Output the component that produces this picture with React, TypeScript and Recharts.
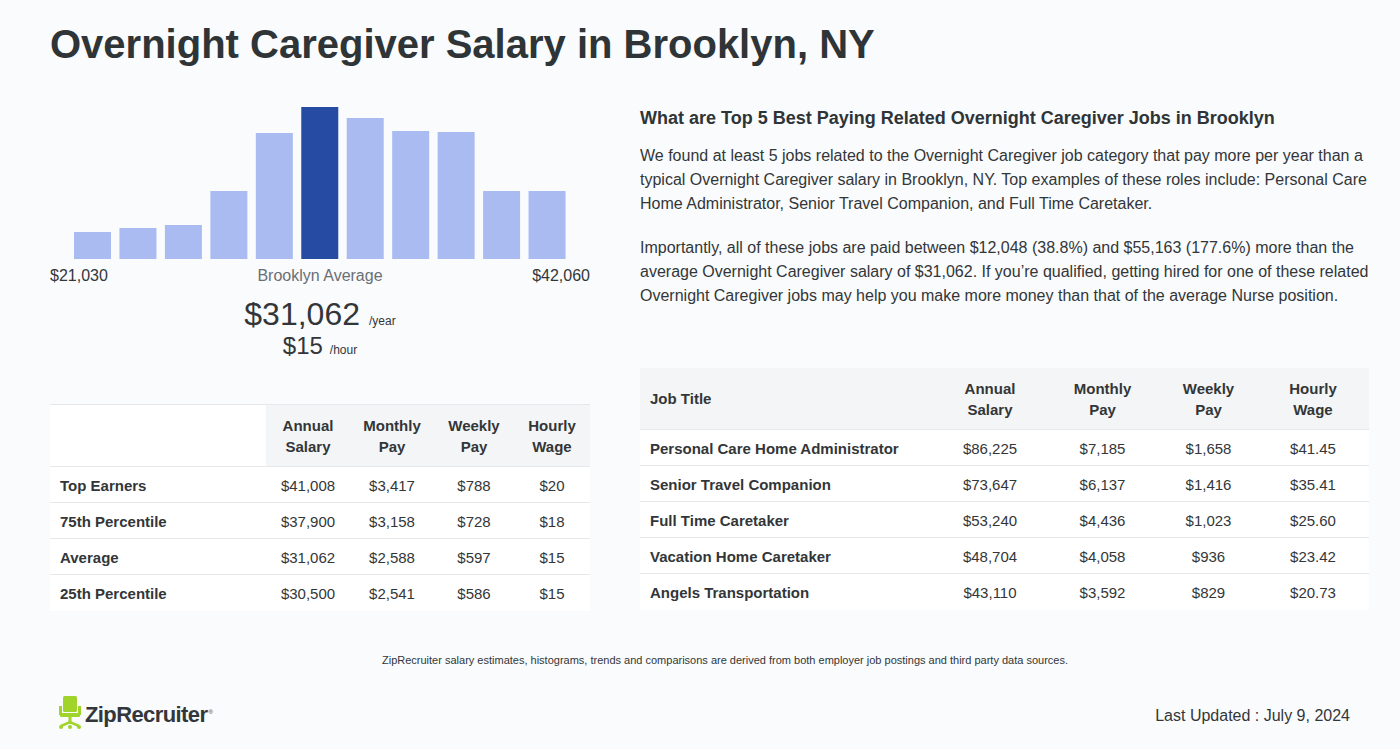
import { BarChart, Bar, XAxis, YAxis, Cell } from "recharts";

// histogram (relative heights of the bins)
const binNames = ["b1", "b2", "b3", "b4", "b5", "b6", "b7", "b8", "b9", "b10", "b11"];
const binCounts = [27, 31, 34, 68, 126, 152, 141, 128, 127, 68, 68];
const averageBin = 5;
const rangeLow = "$21,030";
const rangeHigh = "$42,060";

const avgYear = "$31,062";
const avgHour = "$15";

// left table
const pctHeaders = ["Annual|Salary", "Monthly|Pay", "Weekly|Pay", "Hourly|Wage"];
const pctLabels = ["Top Earners", "75th Percentile", "Average", "25th Percentile"];
const pctAnnual = ["$41,008", "$37,900", "$31,062", "$30,500"];
const pctMonthly = ["$3,417", "$3,158", "$2,588", "$2,541"];
const pctWeekly = ["$788", "$728", "$597", "$586"];
const pctHourly = ["$20", "$18", "$15", "$15"];

// right table
const jobTitles = [
  "Personal Care Home Administrator",
  "Senior Travel Companion",
  "Full Time Caretaker",
  "Vacation Home Caretaker",
  "Angels Transportation",
];
const jobAnnual = ["$86,225", "$73,647", "$53,240", "$48,704", "$43,110"];
const jobMonthly = ["$7,185", "$6,137", "$4,436", "$4,058", "$3,592"];
const jobWeekly = ["$1,658", "$1,416", "$1,023", "$936", "$829"];
const jobHourly = ["$41.45", "$35.41", "$25.60", "$23.42", "$20.73"];

const FONT = '"Liberation Sans", Arial, Helvetica, sans-serif';
const DARK = "#2f3437";
const TEXT = "#333638";
const BORDER = "#e6e8eb";
const HEAD_BG = "#f3f5f7";

const histData = binNames.map((name, i) => ({ name, count: binCounts[i] }));

function Txt({
  x,
  y,
  size,
  children,
  bold,
  color = TEXT,
  align = "left",
}: {
  x: number;
  y: number;
  size: number;
  children: any;
  bold?: boolean;
  color?: string;
  align?: "left" | "center" | "right";
}) {
  // y is the baseline; line-height 1 puts the baseline at top + 0.8465 * size
  const top = y - 0.8465 * size;
  const style: any = {
    position: "absolute",
    top,
    fontSize: size,
    lineHeight: `${size}px`,
    fontWeight: bold ? 700 : 400,
    color,
    whiteSpace: "nowrap",
  };
  if (align === "left") style.left = x;
  if (align === "right") style.right = 1400 - x;
  if (align === "center") {
    style.left = x - 400;
    style.width = 800;
    style.textAlign = "center";
  }
  return <div style={style}>{children}</div>;
}

function HeadCell({ label, width, bg }: { label: string; width: number; bg: string }) {
  const [a, b] = label.split("|");
  return (
    <th
      style={{
        width,
        background: bg,
        fontWeight: 700,
        fontSize: 15,
        lineHeight: "21px",
        textAlign: "center",
        padding: 0,
        height: 61,
        borderBottom: `1px solid ${BORDER}`,
        color: TEXT,
      }}
    >
      {a}
      <br />
      {b}
    </th>
  );
}

const cellStyle = (w: number, first: boolean, last: boolean): any => ({
  width: w,
  height: last ? 35 : 34,
  padding: first ? "1px 0 0 10px" : "1px 0 0 0",
  fontSize: 15,
  fontWeight: first ? 700 : 400,
  textAlign: first ? "left" : "center",
  borderBottom: last ? "none" : `1px solid ${BORDER}`,
  color: TEXT,
  background: "#fff",
});

function ChairIcon() {
  const g = "#a1d42a";
  return (
    <svg width={24} height={34} style={{ position: "absolute", left: 58, top: 696 }}>
      <rect x={5} y={0} width={14} height={16} rx={1.5} fill={g} />
      <rect x={1} y={10} width={3} height={9} fill={g} />
      <rect x={20} y={10} width={3} height={9} fill={g} />
      <rect x={2} y={17} width={20} height={4} rx={1} fill={g} />
      <rect x={10.5} y={21} width={3} height={7} fill={g} />
      <path d="M3 30 L12 26 L21 30" stroke={g} strokeWidth={2.5} fill="none" />
      <circle cx={3} cy={31} r={2} fill={g} />
      <circle cx={21} cy={31} r={2} fill={g} />
      <circle cx={12} cy={31} r={2} fill={g} />
    </svg>
  );
}

export default function App() {
  const leftCols = [216, 84, 84, 80, 76];
  const rightCols = [295, 110, 115, 97, 112];

  return (
    <div
      style={{
        position: "absolute",
        left: 0,
        top: 0,
        width: 1400,
        height: 749,
        background: "#f9fbfd",
        fontFamily: FONT,
        overflow: "hidden",
      }}
    >
      <Txt x={50} y={58} size={40} bold color={DARK}>
        Overnight Caregiver Salary in Brooklyn, NY
      </Txt>

      {/* histogram */}
      <div style={{ position: "absolute", left: 70, top: 107 }}>
        <BarChart
          width={500}
          height={152}
          data={histData}
          margin={{ top: 0, right: 0, bottom: 0, left: 0 }}
        >
          <XAxis dataKey="name" hide />
          <YAxis hide domain={[0, "dataMax"]} />
          <Bar dataKey="count" barSize={37} isAnimationActive={false}>
            {histData.map((d, i) => (
              <Cell key={d.name} fill={i === averageBin ? "#264ba3" : "#a9bbf1"} />
            ))}
          </Bar>
        </BarChart>
      </div>

      <Txt x={50} y={282} size={16}>
        {rangeLow}
      </Txt>
      <Txt x={320} y={282} size={16} align="center" color="#6b6f73">
        {"Brooklyn Average"}
      </Txt>
      <Txt x={590} y={282} size={16} align="right">
        {rangeHigh}
      </Txt>

      <Txt x={320} y={325} size={32} align="center">
        {avgYear}
        <span style={{ fontSize: 12, marginLeft: 9 }}>/year</span>
      </Txt>
      <Txt x={320} y={354} size={24} align="center">
        {avgHour}
        <span style={{ fontSize: 12, marginLeft: 7 }}>/hour</span>
      </Txt>

      {/* percentile table */}
      <table
        style={{
          position: "absolute",
          left: 50,
          top: 404,
          width: 540,
          borderCollapse: "collapse",
          tableLayout: "fixed",
          fontFamily: FONT,
          borderTop: `1px solid ${BORDER}`,
        }}
      >
        <thead>
          <tr>
            <th style={{ width: leftCols[0], background: "#fff", padding: 0, borderBottom: `1px solid ${BORDER}` }} />
            {pctHeaders.map((h, i) => (
              <HeadCell key={h} label={h} width={leftCols[i + 1]} bg={HEAD_BG} />
            ))}
          </tr>
        </thead>
        <tbody>
          {pctLabels.map((lab, r) => {
            const last = r === pctLabels.length - 1;
            return (
              <tr key={lab}>
                <td style={cellStyle(leftCols[0] - 10, true, last)}>{lab}</td>
                <td style={cellStyle(leftCols[1], false, last)}>{pctAnnual[r]}</td>
                <td style={cellStyle(leftCols[2], false, last)}>{pctMonthly[r]}</td>
                <td style={cellStyle(leftCols[3], false, last)}>{pctWeekly[r]}</td>
                <td style={cellStyle(leftCols[4], false, last)}>{pctHourly[r]}</td>
              </tr>
            );
          })}
        </tbody>
      </table>

      {/* right column text */}
      <Txt x={640} y={124} size={18} bold color={DARK}>
        What are Top 5 Best Paying Related Overnight Caregiver Jobs in Brooklyn
      </Txt>
      <div
        style={{
          position: "absolute",
          left: 640,
          top: 144,
          fontSize: 16,
          lineHeight: "24px",
          color: TEXT,
          whiteSpace: "nowrap",
        }}
      >
        We found at least 5 jobs related to the Overnight Caregiver job category that pay more per year than a
        <br />
        typical Overnight Caregiver salary in Brooklyn, NY. Top examples of these roles include: Personal Care
        <br />
        Home Administrator, Senior Travel Companion, and Full Time Caretaker.
        <div style={{ height: 20 }} />
        Importantly, all of these jobs are paid between $12,048 (38.8%) and $55,163 (177.6%) more than the
        <br />
        average Overnight Caregiver salary of $31,062. If you’re qualified, getting hired for one of these related
        <br />
        Overnight Caregiver jobs may help you make more money than that of the average Nurse position.
      </div>

      {/* related jobs table */}
      <table
        style={{
          position: "absolute",
          left: 640,
          top: 368,
          width: 729,
          borderCollapse: "collapse",
          tableLayout: "fixed",
          fontFamily: FONT,
        }}
      >
        <thead>
          <tr>
            <th
              style={{
                width: rightCols[0] - 10,
                background: HEAD_BG,
                textAlign: "left",
                padding: "0 0 0 10px",
                fontSize: 15,
                height: 61,
                color: TEXT,
                borderBottom: `1px solid ${BORDER}`,
              }}
            >
              Job Title
            </th>
            {pctHeaders.map((h, i) => (
              <HeadCell key={h} label={h} width={rightCols[i + 1]} bg={HEAD_BG} />
            ))}
          </tr>
        </thead>
        <tbody>
          {jobTitles.map((t, r) => {
            const last = r === jobTitles.length - 1;
            return (
              <tr key={t}>
                <td style={cellStyle(rightCols[0] - 10, true, last)}>{t}</td>
                <td style={cellStyle(rightCols[1], false, last)}>{jobAnnual[r]}</td>
                <td style={cellStyle(rightCols[2], false, last)}>{jobMonthly[r]}</td>
                <td style={cellStyle(rightCols[3], false, last)}>{jobWeekly[r]}</td>
                <td style={cellStyle(rightCols[4], false, last)}>{jobHourly[r]}</td>
              </tr>
            );
          })}
        </tbody>
      </table>

      <Txt x={725} y={664} size={11} align="center">
        ZipRecruiter salary estimates, histograms, trends and comparisons are derived from both employer job postings and third party data sources.
      </Txt>

      <ChairIcon />
      <Txt x={85} y={720} size={22} bold color="#33373b">
        <span style={{ letterSpacing: -0.6 }}>ZipRecruiter</span>
        <sup style={{ fontSize: 6, fontWeight: 400, marginLeft: 1 }}>®</sup>
      </Txt>

      <Txt x={1350} y={722} size={16} align="right">
        Last Updated : July 9, 2024
      </Txt>
    </div>
  );
}
